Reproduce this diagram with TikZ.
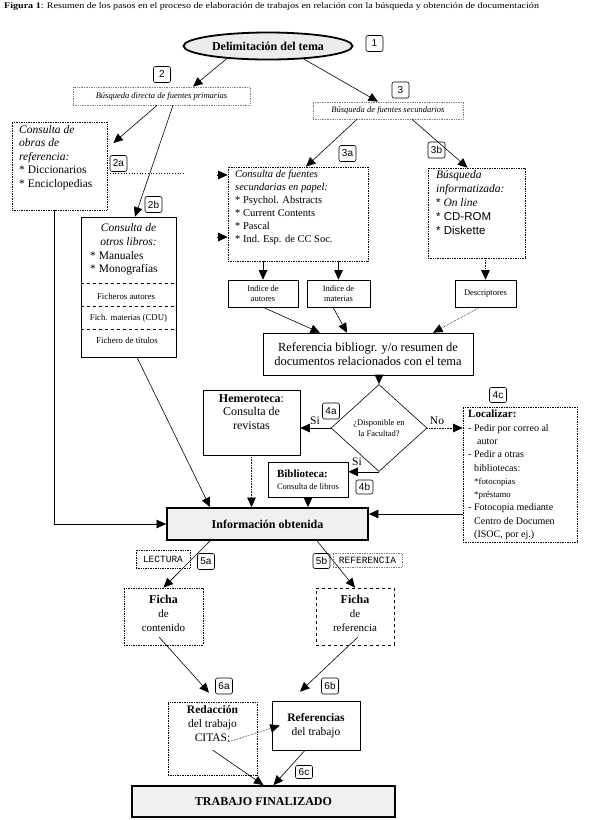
\documentclass[tikz,border=0pt]{standalone}
\usepackage{fontspec}
\setmainfont{Liberation Serif}
\setsansfont{Liberation Sans}
\setmonofont{Liberation Mono}
\usetikzlibrary{shapes.geometric,arrows.meta,calc}
\tikzset{
  sz/.style 2 args={minimum width=#1pt, minimum height=#2pt, inner sep=0pt},
  sbox/.style={draw, line width=0.6pt, fill=white},
  dbox/.style={draw, densely dotted, line width=0.7pt, fill=white},
  gbox/.style={draw=gray, densely dotted, line width=0.7pt, fill=white},
  bigbox/.style={draw, line width=1.8pt, fill=gray!12, font=\bfseries\fontsize{12}{14}\selectfont},
  lab/.style={draw, rounded corners=2pt, line width=0.6pt, font=\sffamily\fontsize{10}{10}\selectfont, inner sep=0pt, minimum width=17pt, minimum height=16pt, fill=white},
  txt/.style={inner sep=0pt, align=left},
  arr/.style={-{Triangle[length=9.5pt,width=8.5pt]}, line width=0.6pt},
}
\begin{document}
\begin{tikzpicture}[x=1pt,y=-1pt]
\path[use as bounding box, fill=white] (0,0) rectangle (589,820);

% title
\node[anchor=west, inner sep=0pt, font=\fontsize{8.6}{10}\selectfont] (title) at (4,6) {\scalebox{1.17}[1]{\textbf{Figura 1}: Resumen de los pasos en el proceso de elaboración de trabajos en relación con la búsqueda y obtención de documentación}};

% level 1
\node[ellipse, draw, line width=1.8pt, fill=gray!15, minimum width=169pt, minimum height=27pt, inner sep=0pt, font=\bfseries\fontsize{12}{14}\selectfont] (ell) at (268,46) {Delimitación del tema};
\node[lab] (l1) at (374.5,43.5) {1};

% level 2/3 headers
\node[lab] (l2) at (162,74.5) {2};
\node[gbox, sz={177}{18}, font=\itshape\fontsize{8.5}{10}\selectfont] (b2) at (161.5,96) {Búsqueda directa de fuentes primarias};
\node[lab] (l3) at (400.5,90) {3};
\node[gbox, sz={150}{17}, font=\itshape\fontsize{8.5}{10}\selectfont] (b3) at (388,110.5) {Búsqueda de fuentes secundarios};

% obras de referencia
\node[dbox, sz={95}{88}] (obras) at (59.5,166) {};
\node[txt, anchor=north west, font=\fontsize{11.5}{13.5}\selectfont] (obrasT) at (19,125) {\textit{Consulta de}\\\textit{obras de}\\\textit{referencia:}\\* Diccionarios\\* Enciclopedias};
\node[lab] (l2a) at (118.5,163.5) {2a};
\node[lab] (l2b) at (153.5,204.5) {2b};

% otros libros
\node[sbox, sz={95}{140}] (otros) at (128.5,287) {};
\node[inner sep=0pt, align=center, anchor=north, font=\itshape\fontsize{11.5}{14}\selectfont] (otrosT1) at (128.5,223) {Consulta de\\otros libros:};
\node[txt, anchor=north west, font=\fontsize{11.5}{13.5}\selectfont] (otrosT2) at (90,251) {* Manuales\\* Monografías};
\draw[dashed, line width=0.5pt] ([yshift=-67pt]otros.north west) -- ([yshift=-67pt]otros.north east);
\draw[dashed, line width=0.5pt] ([yshift=-90pt]otros.north west) -- ([yshift=-90pt]otros.north east);
\draw[dashed, line width=0.5pt] ([yshift=-113pt]otros.north west) -- ([yshift=-113pt]otros.north east);
\node[inner sep=0pt, font=\fontsize{8.8}{10}\selectfont] (fa) at (126,296) {Ficheros autores};
\node[inner sep=0pt, font=\fontsize{8.8}{10}\selectfont] (fm) at (128.5,318.5) {Fich. materias (CDU)};
\node[inner sep=0pt, font=\fontsize{8.8}{10}\selectfont] (ft) at (127,340) {Fichero de títulos};

% fuentes secundarias en papel
\node[dbox, sz={140}{94}] (papel) at (298,214) {};
\node[txt, anchor=north west, font=\fontsize{10.5}{13}\selectfont] (papelT) at (235,170) {\textit{Consulta de fuentes}\\\textit{secundarias en papel:}\\* Psychol. Abstracts\\* Current Contents\\* Pascal\\* Ind. Esp. de CC Soc.};
\node[lab] (l3a) at (347.5,153.5) {3a};
\node[lab] (l3b) at (436.5,150) {3b};

% informatizada
\node[dbox, sz={97}{90}] (info) at (476.5,213) {};
\node[txt, anchor=north west, font=\fontsize{11.5}{14}\selectfont] (infoT) at (436,170) {\textit{Búsqueda}\\\textit{informatizada:}\\{\sffamily *}\ \textit{On line}\\{\sffamily * CD-ROM}\\{\sffamily * Diskette}};

% indices
\node[sbox, sz={70}{27}, align=center, font=\fontsize{8.5}{10.5}\selectfont] (indA) at (263,293.5) {Indice de\\autores};
\node[sbox, sz={63}{27}, align=center, font=\fontsize{8.5}{10.5}\selectfont] (indM) at (338.5,293.5) {Indice de\\materias};
\node[sbox, sz={61}{27}, font=\fontsize{8.5}{10.5}\selectfont] (desc) at (485.5,293.5) {Descriptores};

% referencia bibliografica
\node[sbox, sz={210}{42}, align=center, font=\fontsize{12.5}{14}\selectfont] (ref) at (368,354) {Referencia bibliogr. y/o resumen de\\documentos relacionados con el tema};

% decision
\node[diamond, draw, line width=0.6pt, fill=white, minimum width=96pt, minimum height=87pt, inner sep=0pt, align=center, font=\fontsize{8.5}{10.5}\selectfont] (dia) at (379,428) {¿Disponible en\\la Facultad?};
\node[lab] (l4a) at (331,411) {4a};
\node[inner sep=0pt, font=\fontsize{11.5}{12}\selectfont] (si1) at (315,421) {Si};
\node[inner sep=0pt, font=\fontsize{11.5}{12}\selectfont] (no) at (437,421) {No};
\node[inner sep=0pt, font=\fontsize{11.5}{12}\selectfont] (si2) at (357,462) {Si};

% hemeroteca
\node[sbox, sz={97}{65}] (hem) at (251.5,422.5) {};
\node[inner sep=0pt, anchor=north, align=center, font=\fontsize{12}{13.8}\selectfont] (hemT) at (251.5,394) {\textbf{Hemeroteca}:\\Consulta de\\revistas};

% biblioteca
\node[sbox, sz={80}{35}, align=left] (bib) at (308,479.5) {{\bfseries\fontsize{11}{12}\selectfont Biblioteca:}\\{\fontsize{8.5}{10}\selectfont Consulta de libros}};
\node[lab, minimum height=14pt] (l4b) at (364.5,487) {4b};

% localizar
\node[dbox, sz={114}{135}] (loc) at (520,474.5) {};
\node[txt, anchor=north west, font=\fontsize{10}{13.3}\selectfont] (locT) at (468,410) {{\bfseries\fontsize{11}{13.3}\selectfont Localizar:}\\- Pedir por correo al\\\hspace*{9pt}autor\\- Pedir a otras\\\hspace*{6pt}bibliotecas:\\\hspace*{6pt}{\fontsize{8.8}{11}\selectfont *fotocopias}\\\hspace*{6pt}{\fontsize{8.8}{11}\selectfont *préstamo}\\- Fotocopia mediante\\\hspace*{6pt}Centro de Documen\\\hspace*{6pt}(ISOC, por ej.)};
\node[lab, minimum height=15pt] (l4c) at (498,395) {4c};

% informacion obtenida
\node[bigbox, sz={201}{32}] (infoob) at (267.5,524) {Información obtenida};

% lectura / referencia
\node[dbox, sz={54}{18}, font=\ttfamily\fontsize{9.5}{10}\selectfont] (lect) at (163,559) {LECTURA};
\node[gbox, sz={69}{14}, font=\ttfamily\fontsize{9.5}{10}\selectfont] (refer) at (367.5,560) {REFERENCIA};
\node[lab] (l5a) at (206,561.5) {5a};
\node[lab, minimum height=15pt] (l5b) at (321.5,561) {5b};

% fichas
\node[dbox, sz={79}{57}] (fichaC) at (163.5,616.5) {};
\node[inner sep=0pt, align=center, font=\fontsize{11}{14}\selectfont] (fichaCT) at (163.5,613) {{\bfseries\fontsize{12}{14}\selectfont Ficha}\\de\\contenido};
\node[draw, dashed, line width=0.6pt, fill=white, sz={78}{57}] (fichaR) at (355,616.5) {};
\node[inner sep=0pt, align=center, font=\fontsize{11}{14}\selectfont] (fichaRT) at (355,613) {{\bfseries\fontsize{12}{14}\selectfont Ficha}\\de\\referencia};
\node[lab] (l6a) at (224,686) {6a};
\node[lab] (l6b) at (330,686) {6b};

% redaccion / referencias
\node[dbox, sz={89}{73}] (red) at (212.5,738.5) {};
\node[inner sep=0pt, anchor=north, align=center, font=\fontsize{11.5}{14}\selectfont] (redT) at (212.5,705) {\textbf{Redacción}\\del trabajo\\CITAS:};
\node[sbox, sz={88}{49}, align=center, font=\fontsize{11.5}{14}\selectfont] (refs) at (316,725.5) {\textbf{Referencias}\\del trabajo};
\node[lab, minimum height=13pt] (l6c) at (304,772) {6c};

% final
\node[bigbox, sz={263}{31}] (final) at (263.5,801.5) {TRABAJO FINALIZADO};

% ---------- connectors ----------
\draw[arr] (ell.197) -- ([xshift=31.5pt]b2.north);
\draw[arr] (ell.340) -- ([xshift=-10pt]b3.north);
\draw[arr] ([xshift=-4.5pt]b2.south) -- ([shift={(6pt,23pt)}]obras.east);
\draw[arr] ([xshift=11.5pt]b2.south) -- ([xshift=6.5pt]otros.north);
\draw[arr] ([xshift=-31pt]b3.south) -- ([xshift=8pt]papel.north);
\draw[arr] ([xshift=24pt]b3.south) -- ([xshift=-9pt]info.north);

\coordinate (s1) at (217,175);
\coordinate (s2) at (217,237);
\draw[arr] (s1) -- (s1 -| papel.west);
\draw[arr] (s2) -- (s2 -| papel.west);
\coordinate (d1) at (183,173);
\draw[dotted, line width=0.7pt] ([yshift=-7pt]obras.east) -- (d1);

\draw[arr] ([xshift=-5.5pt]obras.south) |- (infoob.west);
\draw[arr] ([xshift=8.5pt]otros.south) -- ([xshift=-57.5pt]infoob.north);

\draw[arr] (papel.south -| indA.north) -- (indA.north);
\draw[arr] (papel.south -| indM.north) -- (indM.north);
\draw[arr, densely dotted] (info.south -| desc.north) -- (desc.north);

\draw[arr] (indA.south) -- ([xshift=-48pt]ref.north);
\draw[arr] ([xshift=-5.5pt]indM.south) -- ([xshift=-21pt]ref.north);
\draw[arr, densely dotted] ([xshift=-5.5pt]desc.south) -- ([xshift=65pt]ref.north);

\draw[arr] (dia.north |- ref.south) -- (dia.north);
\draw[arr] (dia.west) -- (dia.west -| hem.east);
\draw[arr, densely dotted] (dia.east) -- (dia.east -| loc.west);
\draw[arr] (dia.south) -- (dia.south -| bib.east);
\draw[arr, densely dotted] (hem.south) -- (hem.south |- infoob.north);
\draw[arr] (bib.south) -- (bib.south |- infoob.north);
\draw[arr] ([yshift=10pt]infoob.east -| loc.west) -- ([yshift=10pt]infoob.east);

\draw[arr] ([xshift=-57.5pt]infoob.south) -- (fichaC.north);
\draw[arr] ([xshift=49.5pt]infoob.south) -- (fichaR.north);
\draw[arr] ([shift={(-4.5pt,-20.5pt)}]fichaC.center) -- ([shift={(-3.5pt,9pt)}]red.north);
\draw[arr] ([shift={(3pt,-20.5pt)}]fichaR.center) -- ([shift={(-16pt,9pt)}]refs.north);
\draw[arr, densely dotted] ([shift={(15.5pt,-3.5pt)}]red.center) -- ([xshift=8pt]refs.west);
\draw[arr] ([yshift=-11.5pt]red.center) -- (final.north);
\draw[arr] ([xshift=-11pt]refs.south) -- ([xshift=10pt]final.north);
\end{tikzpicture}
\end{document}
